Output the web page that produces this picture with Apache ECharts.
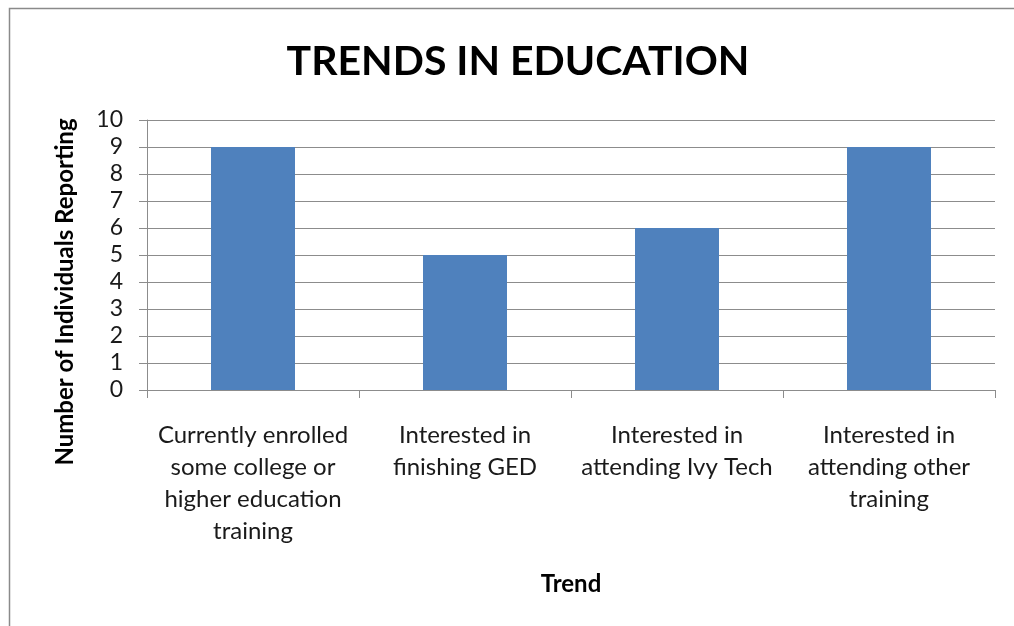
<!DOCTYPE html>
<html><head><meta charset="utf-8">
<script src="https://cdn.jsdelivr.net/npm/echarts@6/dist/echarts.min.js"></script>
<style>html,body{margin:0;padding:0;background:#fff}#c{width:1014px;height:626px}</style>
</head><body><div id="c"></div>
<script>
const categories = [
  "Currently enrolled\nsome college or\nhigher education\ntraining",
  "Interested in\nfinishing GED",
  "Interested in\nattending Ivy Tech",
  "Interested in\nattending other\ntraining"
];
const values = [9, 5, 6, 9];
const titleText = "TRENDS IN EDUCATION";
const xName = "Trend";
const yName = "Number of Individuals Reporting";

const FONT = "Lato, 'Open Sans', sans-serif";
const chart = echarts.init(document.getElementById('c'));
chart.setOption({
  animation: false,
  backgroundColor: '#fff',
  graphic: [{
    type: 'rect', shape: {x: 9.5, y: 8.5, width: 1100, height: 700},
    style: {fill: 'none', stroke: '#8a8a8a', lineWidth: 1.5}, silent: true, z: -1
  }],
  title: {
    text: titleText, left: 513, top: 36, textAlign: 'center',
    textStyle: {fontFamily: FONT, fontSize: 41, fontWeight: 'bold', color: '#000'}
  },
  grid: {left: 147, right: 19, top: 120, bottom: 236, containLabel: false},
  xAxis: {
    type: 'category', data: categories,
    name: xName, nameLocation: 'middle', nameGap: 182,
    nameTextStyle: {fontFamily: FONT, fontSize: 24, fontWeight: 'bold', color: '#000'},
    axisLine: {lineStyle: {color: '#8c8c8c', width: 1}},
    axisTick: {show: true, length: 8, lineStyle: {color: '#8c8c8c'}},
    axisLabel: {interval: 0, fontFamily: FONT, fontSize: 24, color: '#1a1a1a', lineHeight: 32, margin: 29, align: 'center'}
  },
  yAxis: {
    type: 'value', min: 0, max: 10, interval: 1,
    name: yName, nameLocation: 'middle', nameGap: 70, nameRotate: 90,
    nameTextStyle: {fontFamily: FONT, fontSize: 24, fontWeight: 'bold', color: '#000', padding: [0, 74, 0, 0]},
    axisLine: {show: true, lineStyle: {color: '#8c8c8c', width: 1}},
    axisTick: {show: true, length: 8, lineStyle: {color: '#8c8c8c'}},
    splitLine: {lineStyle: {color: '#8c8c8c', width: 1}},
    axisLabel: {fontFamily: FONT, fontSize: 23, color: '#1a1a1a', margin: 24}
  },
  series: [{
    type: 'bar', data: values, barWidth: 84,
    itemStyle: {color: '#4F81BD'}
  }]
});
</script></body></html>
